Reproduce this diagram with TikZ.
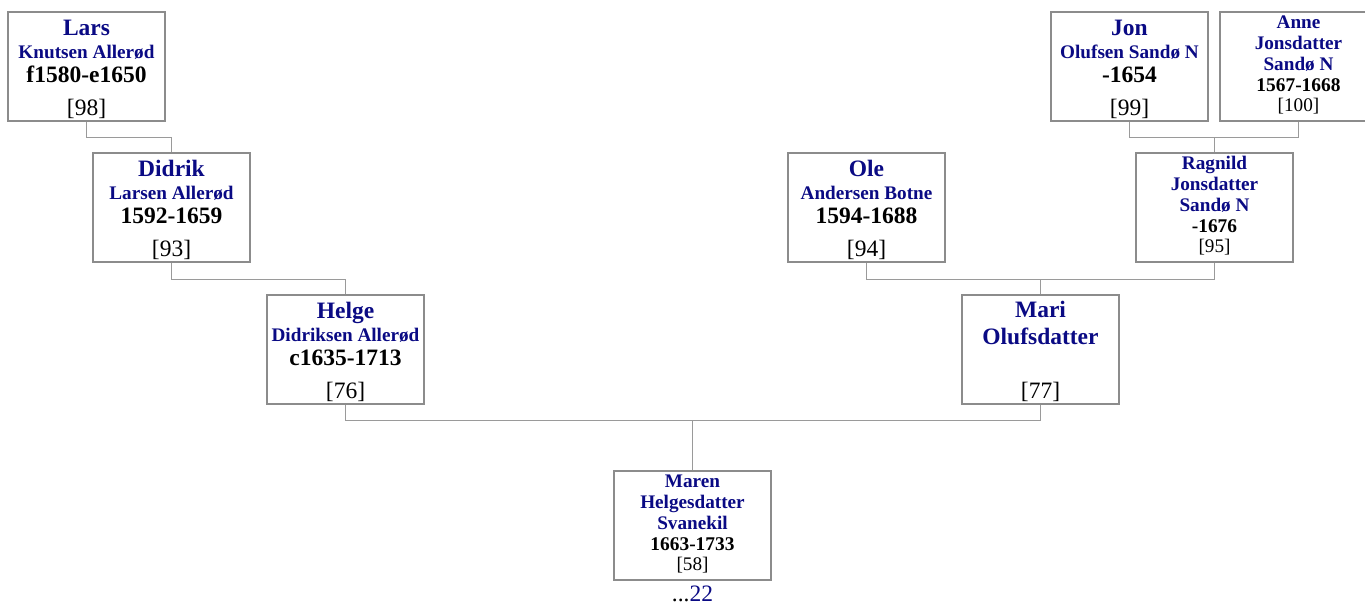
\documentclass[tikz,border=0pt]{standalone}
\usepackage{fontspec}
\setmainfont{Liberation Serif}
\begin{document}
\begin{tikzpicture}[x=1pt, y=-1pt,
  card/.style={draw=cardEdge, line width=1.2pt, fill=white,
    minimum width=157pt, minimum height=109pt, inner sep=0pt},
  given/.style={anchor=base, inner sep=0pt, text=nameBlue,
    font=\fontsize{23.5}{26}\selectfont\bfseries},
  surname/.style={anchor=base, inner sep=0pt, text=nameBlue,
    font=\fontsize{19.2}{22}\selectfont\bfseries},
  years/.style={anchor=base, inner sep=0pt,
    font=\fontsize{23.5}{26}\selectfont\bfseries},
  refno/.style={anchor=base, inner sep=0pt,
    font=\fontsize{23.5}{26}\selectfont},
  smallyears/.style={years, font=\fontsize{19.4}{22}\selectfont\bfseries},
  smallref/.style={refno, font=\fontsize{19.2}{22}\selectfont},
  link/.style={draw=linkGrey, line width=1pt}]
  \definecolor{nameBlue}{HTML}{0A0A84}
  \definecolor{cardEdge}{HTML}{8C8C8C}
  \definecolor{linkGrey}{HTML}{9A9A9A}
  \useasboundingbox (0,0) rectangle (1365,605);

  % ancestors with the large layout
  \foreach \id/\x/\y/\given/\sur/\yrs/\num in {
    lars/86.5/66.5/Lars/Knutsen Allerød/f1580-e1650/98,
    didrik/171.5/207.5/Didrik/Larsen Allerød/1592-1659/93,
    helge/345.5/349.5/Helge/Didriksen Allerød/c1635-1713/76,
    ole/866.5/207.5/Ole/Andersen Botne/1594-1688/94,
    jon/1129.5/66.5/Jon/Olufsen Sandø N/-1654/99}{
    \node[card] (\id) at (\x,\y) {};
    \node[given] (\id-given) at ([yshift=-24.5pt]\id.north) {\given};
    \node[surname] (\id-sur) at ([yshift=-47pt]\id.north) {\sur};
    \node[years] (\id-yrs) at ([yshift=-71.5pt]\id.north) {\yrs};
    \node[refno] (\id-num) at ([yshift=6pt]\id.south) {[\num]};
  }

  % ancestors with the compact layout
  \foreach \id/\x/\y/\given/\sur/\place/\yrs/\num in {
    ragnild/1214.5/207.5/Ragnild/Jonsdatter/Sandø N/-1676/95,
    anne/1298.5/66.5/Anne/Jonsdatter/Sandø N/1567-1668/100,
    maren/692.5/525.5/Maren/Helgesdatter/Svanekil/1663-1733/58}{
    \node[card] (\id) at (\x,\y) {};
    \node[surname] (\id-given) at ([yshift=-17pt]\id.north) {\given};
    \node[surname] (\id-sur) at ([yshift=-38pt]\id.north) {\sur};
    \node[surname] (\id-place) at ([yshift=-59pt]\id.north) {\place};
    \node[smallyears] (\id-yrs) at ([yshift=-80pt]\id.north) {\yrs};
    \node[smallref] (\id-num) at ([yshift=-100pt]\id.north) {[\num]};
  }

  \node[card] (mari) at (1040.5,349.5) {};
  \node[given] (mari-given) at ([yshift=-23.5pt]mari.north) {Mari};
  \node[given] (mari-sur) at ([yshift=-50.5pt]mari.north) {Olufsdatter};
  \node[refno] (mari-num) at ([yshift=6pt]mari.south) {[77]};

  \node[refno] (maren-more) at ([yshift=-21pt]maren.south)
    {...\textcolor{nameBlue}{22}};

  % lines of descent
  \draw[link] (lars.south) -- ++(0,-16pt) -| (didrik.north);
  \draw[link] (didrik.south) -- ++(0,-17pt) -| (helge.north);
  \draw[link] (jon.south) -- ++(0,-16pt) coordinate (jon-anne) -| (anne.south);
  \draw[link] (ragnild.north) -- (ragnild.north |- jon-anne);
  \draw[link] (ole.south) -- ++(0,-17pt) coordinate (ole-ragnild) -| (ragnild.south);
  \draw[link] (mari.north) -- (mari.north |- ole-ragnild);
  \draw[link] (helge.south) -- ++(0,-16pt) coordinate (helge-mari) -| (mari.south);
  \draw[link] (maren.north) -- (maren.north |- helge-mari);
\end{tikzpicture}
\end{document}
